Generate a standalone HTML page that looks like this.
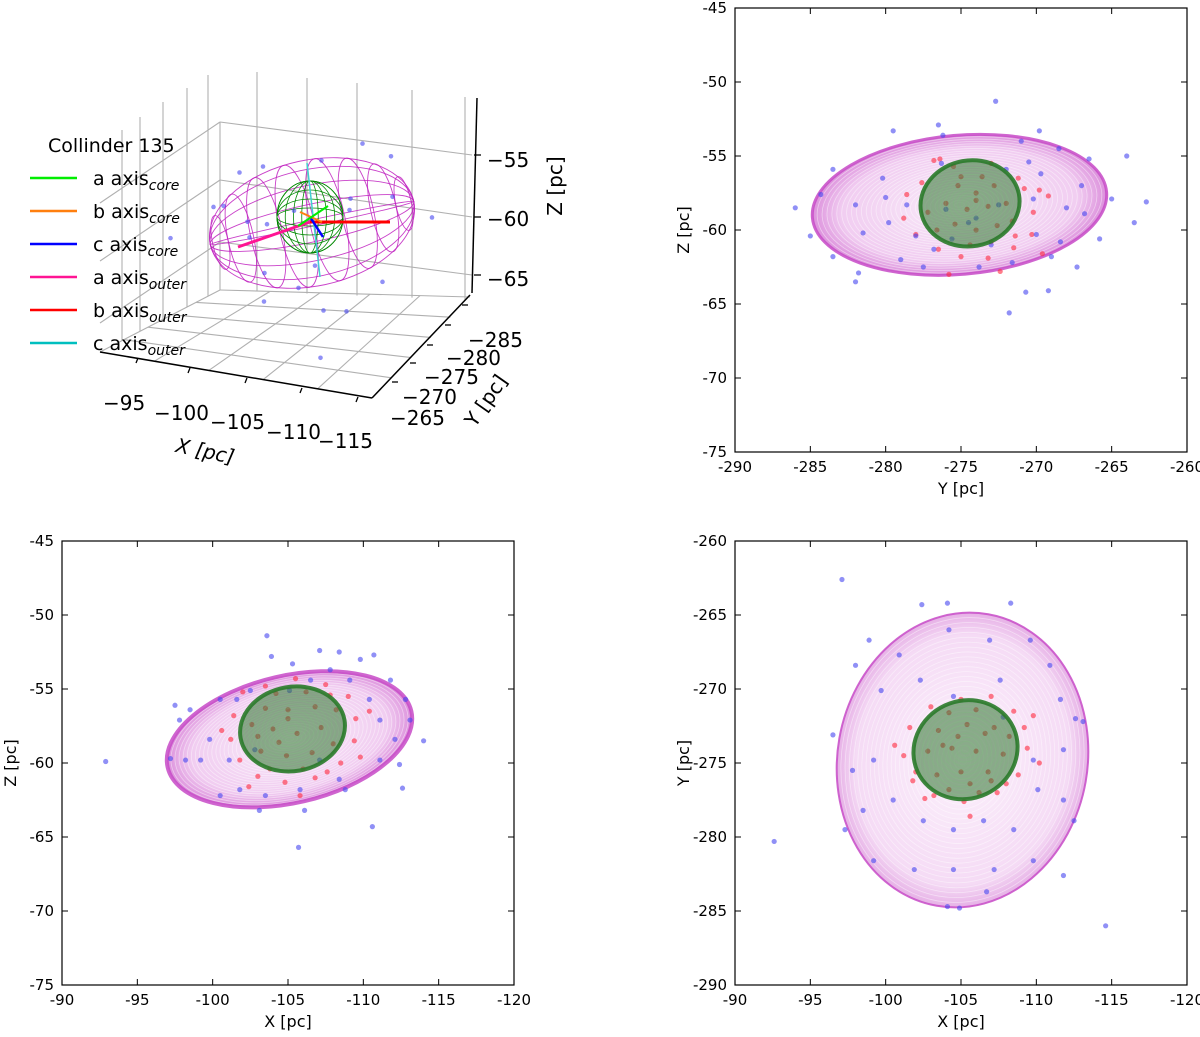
<!DOCTYPE html>
<html><head><meta charset="utf-8">
<style>
html,body{margin:0;padding:0;background:#fff;}
svg{display:block;font-family:"DejaVu Sans","Liberation Sans",sans-serif;}
</style></head>
<body>
<svg id="fig" width="1200" height="1037" viewBox="0 0 1200 1037" xmlns="http://www.w3.org/2000/svg">
<defs>
<radialGradient id="pinkg" cx="50%" cy="50%" r="50%">
<stop offset="0%" stop-color="#f9ecf9"/><stop offset="80%" stop-color="#f1cdf1"/><stop offset="100%" stop-color="#dc90dc"/>
</radialGradient>
<radialGradient id="pinkg2" cx="50%" cy="50%" r="50%">
<stop offset="0%" stop-color="#fcf2fc"/><stop offset="85%" stop-color="#f5dbf5"/><stop offset="100%" stop-color="#e6b0e6"/>
</radialGradient>
</defs>
<g id="p3d"></g>
<g id="ptr"></g>
<g id="pbl"></g>
<g id="pbr"></g>
</svg>
<script>
// ---------- DATA ----------
const trTicksX = [-290,-285,-280,-275,-270,-265,-260];
const trTicksY = [-75,-70,-65,-60,-55,-50,-45];
const xTicks = [-90,-95,-100,-105,-110,-115,-120];
const zTicks = [-75,-70,-65,-60,-55,-50,-45];
const yTicks = [-290,-285,-280,-275,-270,-265,-260];

const trBlueY = [-272.7,-276.5,-279.5,-276.2,-269.8,-271,-268.5,-264,-266.5,-270.5,-283.5,-280.2,-276.3,-272,-269.7,-267,-265,-262.7,-284.3,-282,-280,-278.6,-276,-274,-272.5,-270.2,-268,-266.8,-263.5,-286,-285,-283.5,-281.5,-279.8,-278,-275.6,-273,-270,-268.4,-265.8,-281.8,-279,-277.5,-273.8,-271.6,-269,-267.3,-282,-270.7,-269.2,-271.8,-274.5,-276.8];
const trBlueZ = [-51.3,-52.9,-53.3,-53.6,-53.3,-54,-54.5,-55,-55.2,-55.4,-55.9,-56.5,-55.5,-55.9,-56.2,-57,-57.9,-58.1,-57.6,-58.3,-57.8,-58.3,-58.6,-59.2,-58.3,-57.9,-58.5,-58.9,-59.5,-58.5,-60.4,-61.8,-60.2,-59.5,-60.4,-60.6,-61,-60.3,-60.8,-60.6,-62.9,-62,-62.5,-62.5,-62.2,-61.8,-62.5,-63.5,-64.2,-64.1,-65.6,-59.5,-61.3];
const trRedY = [-276.8,-275.5,-273,-271.2,-270.8,-277.6,-278.6,-278.8,-278,-276.5,-275,-273.2,-271.5,-270.3,-270.2,-269.8,-275.2,-274,-272.8,-276,-274.6,-273.2,-272,-275.4,-274,-272.6,-276.6,-271.6,-273.6,-275,-277.2,-271.4,-274.4,-272.4,-275.8,-269.2,-276.4,-269.6,-274,-273];
const trRedZ = [-55.3,-55.7,-55.5,-56.5,-57.2,-56.8,-57.6,-59.2,-60.3,-61.3,-61.8,-61.9,-61.2,-60.3,-58.8,-57.3,-57,-57.5,-57,-58.2,-58.6,-58.4,-58.2,-59.6,-60,-59.7,-60,-59.4,-56.4,-56.4,-58.8,-60.4,-61,-62.8,-63,-57.7,-55.2,-61.6,-58,-60.8];

const blBlueX = [-92.9,-103.6,-105.3,-103.9,-110.7,-107.1,-108.4,-109.8,-98.5,-97.5,-97.8,-99.2,-101.1,-101.8,-103.5,-105.8,-108.4,-111.1,-112.4,-112.6,-112.1,-111.1,-112.8,-110.4,-109.1,-107.8,-106.5,-105.1,-102.5,-100.5,-99.8,-98.2,-97.2,-103.1,-105.7,-110.6,-114.0,-101.6,-102.8,-107.1,-108.8,-106.1,-100.5,-111.8,-113.1];
const blBlueZ = [-59.9,-51.4,-53.3,-52.8,-52.7,-52.4,-52.5,-53.0,-56.4,-56.1,-57.1,-59.8,-59.8,-61.8,-62.2,-61.8,-61.1,-59.8,-60.1,-61.7,-58.4,-57.1,-55.7,-55.7,-54.4,-53.7,-54.4,-55.1,-55.1,-55.7,-58.4,-59.8,-59.7,-63.2,-65.7,-64.3,-58.5,-55.7,-59.1,-59.8,-61.8,-63.2,-62.2,-54.4,-57.1];
const blRedX = [-102,-103.5,-105.5,-107.5,-109,-101.4,-101.2,-101.8,-103,-104.8,-106.8,-108.5,-109.4,-109.5,-103.5,-105,-106.8,-104,-105.6,-107.2,-103.2,-104.9,-106.6,-108,-102.6,-108.2,-104.2,-106.2,-103.8,-107.6,-110.4,-100.6,-105.8,-102.4,-109.8,-105,-106,-104.4,-107.8,-103];
const blRedZ = [-55.2,-54.8,-54.3,-54.7,-55.5,-56.8,-58.4,-59.8,-60.9,-61.3,-61,-60,-58.5,-57,-56.3,-56.4,-56.2,-57.7,-58,-57.6,-59.2,-59.5,-59.3,-58.7,-57.4,-56.4,-55.3,-55.2,-60.4,-60.6,-56.5,-57.8,-62.2,-61.6,-59.6,-57,-60.4,-58.6,-55.4,-58.2];

const brBlueX = [-97.1,-102.4,-104.1,-108.3,-98.9,-100.9,-104.2,-106.9,-109.6,-110.9,-98.0,-99.7,-102.3,-107.6,-111.6,-112.6,-113.1,-96.5,-97.8,-99.2,-109.8,-111.8,-110.1,-111.8,-98.5,-100.5,-102.5,-104.5,-106.5,-108.5,-97.3,-99.2,-101.9,-104.5,-107.2,-109.8,-111.8,-106.7,-104.1,-104.9,-92.6,-114.6,-112.5,-104.5,-107.8];
const brBlueY = [-262.6,-264.3,-264.2,-264.2,-266.7,-267.7,-266.0,-266.7,-266.7,-268.4,-268.4,-270.1,-269.4,-269.4,-270.7,-272.0,-272.2,-273.1,-275.5,-274.8,-274.8,-274.1,-276.8,-277.5,-278.2,-277.5,-278.9,-279.5,-278.9,-279.5,-279.5,-281.6,-282.2,-282.2,-282.2,-281.6,-282.6,-283.7,-284.7,-284.8,-280.3,-286.0,-278.9,-270.5,-271.9];
const brRedX = [-103,-105,-107,-108.5,-101.6,-101.2,-101.8,-103.2,-105.2,-107.4,-108.8,-109.4,-109.2,-103.5,-105.4,-107.2,-102.8,-104.4,-106,-107.8,-103.4,-105,-106.8,-104.2,-106.2,-104.2,-106,-108.2,-102,-108,-100.6,-110.2,-105.6,-102.6,-109.8,-104.8,-106.6,-103.8,-107,-105.6];
const brRedY = [-271.2,-270.7,-270.5,-271.5,-272.6,-274.5,-276.2,-277.2,-277.6,-277,-275.8,-274,-272.6,-272.8,-272.4,-272.6,-274.2,-274,-274.2,-274.4,-275.8,-275.6,-275.6,-276.8,-277,-271.6,-271.4,-273.2,-275.6,-276.4,-273.8,-275,-278.6,-277.4,-271.8,-273.2,-273,-273.8,-276.2,-276.4];

// 3D stars (X,Y,Z)
const s3X = [-100,-108,-112,-95,-97,-103,-110,-114,-99,-106,-109,-101,-104,-111,-96,-98,-107,-113,-102,-105,-100,-108,-99,-104];
const s3Y = [-270,-280,-276,-266,-272,-284,-270,-281,-276,-268,-285,-274,-279,-266,-278,-283,-272,-270,-266,-286,-277,-268,-281,-273];
const s3Z = [-53,-52.5,-55,-58,-57,-56,-54.5,-58,-60.5,-61,-55,-62.5,-63,-61.5,-59,-57,-64,-60,-55.5,-59.5,-66,-66.5,-61,-56.5];

const legendLabels = ["a axis","b axis","c axis","a axis","b axis","c axis"];
const legendSubs = ["core","core","core","outer","outer","outer"];
const legendColors = ["#00ee00","#ff7f0e","#0000ff","#ff1493","#ff0000","#00bfbf"];

// ---------- HELPERS ----------
const NS="http://www.w3.org/2000/svg";
function mk(parent,tag,attrs,text){const e=document.createElementNS(NS,tag);for(const k in attrs)e.setAttribute(k,attrs[k]);if(text!==undefined)e.textContent=text;parent.appendChild(e);return e;}
function lin(d0,d1,p0,p1){return v=>p0+(v-d0)/(d1-d0)*(p1-p0);}

function panel(g,box,xl,yl,xt,yt,xlab,ylab,blueX,blueY,redX,redY,outer,core,fillId,edgeW){
  const sx=lin(xl[0],xl[1],box.x0,box.x1), sy=lin(yl[0],yl[1],box.y1,box.y0);
  const kx=Math.abs(sx(1)-sx(0)), ky=Math.abs(sy(1)-sy(0));
  const og=mk(g,'g',{transform:`translate(${sx(outer.cx)},${sy(outer.cy)}) rotate(${outer.ang})`});
  
  
  const rx=outer.a*kx, ry=outer.b*ky;
  mk(og,'ellipse',{cx:0,cy:0,rx:rx,ry:ry,fill:`url(#${fillId})`,stroke:'none'});
  for(let i=1;i<=30;i++){const f=i/30;mk(og,'ellipse',{cx:0,cy:0,rx:rx*f,ry:ry*f,fill:'none',stroke:'rgba(255,255,255,0.45)','stroke-width':0.8});}
  mk(og,'ellipse',{cx:0,cy:0,rx:rx,ry:ry,fill:'none',stroke:'#c74ac7','stroke-width':edgeW,'stroke-opacity':0.85});
  for(let i=0;i<redX.length;i++){const c=mk(g,'circle',{cx:sx(redX[i]),cy:sy(redY[i]),r:2.6,fill:'rgba(255,40,60,0.6)'});
    
    }
  for(let i=0;i<blueX.length;i++){const c=mk(g,'circle',{cx:sx(blueX[i]),cy:sy(blueY[i]),r:2.6,fill:'rgba(70,70,240,0.6)'});
    
    }
  const cg=mk(g,'g',{transform:`translate(${sx(core.cx)},${sy(core.cy)}) rotate(${core.ang})`});
  
  
  const crx=core.a*kx, cry=core.b*ky;
  mk(cg,'ellipse',{cx:0,cy:0,rx:crx,ry:cry,fill:'rgba(45,115,45,0.55)'});
  for(let i=1;i<=12;i++){const f=i/12;mk(cg,'ellipse',{cx:0,cy:0,rx:crx*f,ry:cry*f,fill:'none',stroke:'rgba(120,200,120,0.25)','stroke-width':0.8});}
  mk(cg,'ellipse',{cx:0,cy:0,rx:crx,ry:cry,fill:'none',stroke:'#2a7a2a','stroke-width':4,'stroke-opacity':0.9});
  const fr=mk(g,'rect',{x:box.x0,y:box.y0,width:box.x1-box.x0,height:box.y1-box.y0,fill:'none',stroke:'#000','stroke-width':1.2});
  
  
  xt.forEach(v=>{const x=sx(v);
    mk(g,'line',{x1:x,y1:box.y1,x2:x,y2:box.y1-6,stroke:'#000','stroke-width':1});
    mk(g,'line',{x1:x,y1:box.y0,x2:x,y2:box.y0+6,stroke:'#000','stroke-width':1});
    const t=mk(g,'text',{x:x,y:box.y1+20,'font-size':15,'text-anchor':'middle'},String(v));
    
    });
  yt.forEach(v=>{const y=sy(v);
    mk(g,'line',{x1:box.x0,y1:y,x2:box.x0+6,y2:y,stroke:'#000','stroke-width':1});
    mk(g,'line',{x1:box.x1,y1:y,x2:box.x1-6,y2:y,stroke:'#000','stroke-width':1});
    const t=mk(g,'text',{x:box.x0-8,y:y+5,'font-size':15,'text-anchor':'end'},String(v));
    
    });
  const xa=mk(g,'text',{x:(box.x0+box.x1)/2,y:box.y1+42,'font-size':16,'text-anchor':'middle'},xlab);
  
  
  const yx=box.x0-46, yy=(box.y0+box.y1)/2;
  const ya=mk(g,'text',{x:yx,y:yy,'font-size':16,'text-anchor':'middle',transform:`rotate(-90 ${yx} ${yy})`},ylab);
  
  
}

panel(document.getElementById('ptr'),{x0:735,x1:1187,y0:8,y1:452},[-290,-260],[-75,-45],trTicksX,trTicksY,'Y [pc]','Z [pc]',
  trBlueY,trBlueZ,trRedY,trRedZ,{cx:-275.1,cy:-58.3,a:9.8,b:4.7,ang:-5},{cx:-274.4,cy:-58.2,a:3.3,b:2.9,ang:-10},'pinkg',3);
panel(document.getElementById('pbl'),{x0:62,x1:514,y0:541,y1:985},[-90,-120],[-75,-45],xTicks,zTicks,'X [pc]','Z [pc]',
  blBlueX,blBlueZ,blRedX,blRedZ,{cx:-105.1,cy:-58.4,a:8.3,b:4.3,ang:-13},{cx:-105.3,cy:-57.7,a:3.5,b:2.85,ang:-10},'pinkg',4);
panel(document.getElementById('pbr'),{x0:735,x1:1187,y0:541,y1:985},[-90,-120],[-290,-260],xTicks,yTicks,'X [pc]','Y [pc]',
  brBlueX,brBlueY,brRedX,brRedY,{cx:-105.1,cy:-274.8,a:8.3,b:10.0,ang:10},{cx:-105.3,cy:-274.1,a:3.5,b:3.3,ang:-25},'pinkg2',2);

// ---------- 3D PANEL ----------
(function(){
  const g=document.getElementById('p3d');
  const gray={stroke:'#b0b0b0','stroke-width':1.1,fill:'none'};
  const L=(a,b,c,d)=>mk(g,'line',Object.assign({x1:a,y1:b,x2:c,y2:d},gray));
  [[122,155],[180,217],[242,275]].forEach(([l,r])=>{L(220,l,472,r);L(220,l,100,l+81);});
  L(220,122,220,290);
  [[257,72],[307,78],[357,83],[412,90],[465,97]].forEach(([x,t])=>L(x,t,x,290+(x-220)*0.04));
  [[122,130],[140,117],[163,102],[187,88],[208,75]].forEach(([x,t])=>L(x,t,x,352-(x-100)*0.52));
  L(220,290,470,297);
  for(let i=1;i<5;i++){const f=i/5;
    L(100+(220-100)*f,352+(290-352)*f,372+(470-372)*f,398+(297-398)*f);
    L(100+(372-100)*f,352+(398-352)*f,220+(470-220)*f,290+(297-290)*f);}
  L(100,352,220,290);
  const ax={stroke:'#000','stroke-width':1.5};
  const xAx=mk(g,'line',Object.assign({x1:100,y1:352,x2:372,y2:398},ax));
  
  
  const yAx=mk(g,'line',Object.assign({x1:372,y1:398,x2:470,y2:295},ax));
  
  
  const zAx=mk(g,'line',Object.assign({x1:477,y1:98,x2:472,y2:293},ax));
  
  
  [155,217,275].forEach(y=>mk(g,'line',{x1:474,y1:y,x2:481,y2:y,stroke:'#000','stroke-width':1.3}));
  [[138,358],[190,368],[247,378],[302,388],[358,397]].forEach(([x,y])=>mk(g,'line',{x1:x,y1:y,x2:x-2,y2:y+5,stroke:'#000','stroke-width':1.3}));
  [[392,382],[410,363],[427,345],[445,325],[462,305]].forEach(([x,y])=>mk(g,'line',{x1:x,y1:y,x2:x+6,y2:y,stroke:'#000','stroke-width':1.3}));
  const cx=312,cy=223;
  const w=mk(g,'g',{transform:`translate(${cx},${cy}) rotate(-12)`});
  
  
  const mg={fill:'none',stroke:'#c020c0','stroke-width':0.9,'stroke-opacity':0.85};
  [1,0.85,0.6,0.3,0.05].forEach(k=>mk(w,'ellipse',Object.assign({cx:0,cy:0,rx:104,ry:63*k},mg)));
  [-0.9,-0.7,-0.45,-0.15,0.15,0.45,0.7,0.9].forEach(t=>{const s=Math.sqrt(1-t*t);mk(w,'ellipse',Object.assign({cx:104*t,cy:0,rx:18*s,ry:63*s},mg));});
  const cw=mk(g,'g',{transform:`translate(310,217)`});
  
  
  const gg={fill:'none',stroke:'#008800','stroke-width':0.8};
  [1,0.75,0.5,0.25].forEach(k=>{mk(cw,'ellipse',Object.assign({cx:0,cy:0,rx:33*k,ry:36},gg));mk(cw,'ellipse',Object.assign({cx:0,cy:0,rx:33,ry:36*k},gg));});
  const al=(a,b,c,d,col,wd,n)=>{const e=mk(g,'line',{x1:a,y1:b,x2:c,y2:d,stroke:col,'stroke-width':wd});};
  al(307,163,320,277,'#40d0d0',1.5,'c-axis-outer');
  al(238,247,310,222,'#ff1493',3,'a-axis-outer');
  al(310,222,390,222,'#ff0000',3,'b-axis-outer');
  al(310,217,323,237,'#0000ff',2.5,'c-axis-core');
  al(300,212,322,222,'#ff7f0e',2,'b-axis-core');
  al(298,226,328,206,'#00ee00',2,'a-axis-core');
  const P=(X,Y,Z)=>[312+(X+105)*(-11)+(Y+275)*(-3.5), 223+(X+105)*(-1.95)+(Y+275)*(3.85)+(Z+58)*(-12)];
  for(let i=0;i<s3X.length;i++){const p=P(s3X[i],s3Y[i],s3Z[i]);const c=mk(g,'circle',{cx:p[0],cy:p[1],r:2.3,fill:'rgba(70,70,240,0.6)'});
    
    }
  const T=(x,y,s,fs,extra)=>{const t=mk(g,'text',Object.assign({x:x,y:y,'font-size':fs},extra||{}),s);return t;};
  [['−55',160],['−60',219],['−65',279]].forEach(([s,y])=>T(487,y+7,s,20));
  [['−285',340],['−280',358],['−275',377],['−270',397],['−265',418]].forEach(([s,y],i)=>T([468,446,424,402,390][i],y+7,s,20));
  [['−95',125,403],['−100',176,413],['−105',232,422],['−110',288,432],['−115',340,441]].forEach(([s,x,y])=>T(x-22,y+7,s,20));
  const xl=mk(g,'text',{x:205,y:458,'font-size':20,'text-anchor':'middle','font-style':'italic',transform:'rotate(12 205 452)'},'X [pc]');
  
  
  const yl=mk(g,'text',{x:485,y:408,'font-size':20,'text-anchor':'middle',transform:'rotate(-55 485 400)'},'Y [pc]');
  
  
  const zl=mk(g,'text',{x:562,y:186,'font-size':20,'text-anchor':'middle',transform:'rotate(-90 562 186)'},'Z [pc]');
  
  
  const lg=mk(g,'g',{});
  
  
  const tt=mk(lg,'text',{x:48,y:152,'font-size':19},'Collinder 135');
  
  
  legendLabels.forEach((lab,i)=>{const y=182+i*33;
    const e=mk(lg,'g',{});
    
    
    mk(e,'line',{x1:30,y1:y-4,x2:77,y2:y-4,stroke:legendColors[i],'stroke-width':2.5});
    const t=mk(e,'text',{x:93,y:y+3,'font-size':19},lab);
    mk(t,'tspan',{'font-size':14,'font-style':'italic',dy:5},legendSubs[i]);});
})();
</script>
</body></html>
